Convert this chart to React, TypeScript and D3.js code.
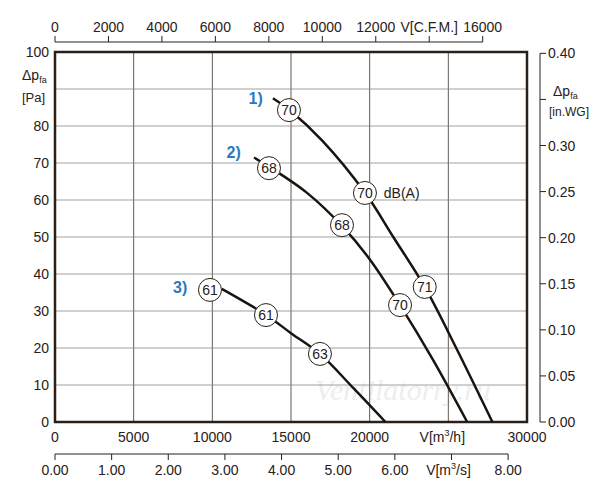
import { scaleLinear, line, curveCatmullRom } from "d3";

const flowTicks = [0, 5000, 10000, 15000, 20000, 25000, 30000];
const paTicks = [0, 10, 20, 30, 40, 50, 60, 70, 80, 90, 100];
const cfmTicks = [0, 2000, 4000, 6000, 8000, 10000, 12000, 14000, 16000];
const m3sTicks = [0, 1, 2, 3, 4, 5, 6, 7, 8];
const inwgTicks = [0, 0.05, 0.1, 0.15, 0.2, 0.25, 0.3, 0.35, 0.4];

// curves: [m3/h, Pa]
const curve1: [number, number][] = [[13850, 87.5], [15000, 84], [17000, 76], [19700, 62], [21500, 50], [23500, 36.5], [25500, 20], [27800, 0]];
const curve2: [number, number][] = [[12650, 71.5], [13600, 69], [16000, 62], [18240, 53], [20000, 44], [21930, 31.6], [24000, 17], [26200, 0]];
const curve3: [number, number][] = [[10600, 36], [13400, 29], [15000, 24], [16840, 18.4], [19000, 9], [21000, 0]];
const curves = [curve1, curve2, curve3];
const curveNames = ["1)", "2)", "3)"];
const nameAt: [number, number][] = [[12300, 87.5], [10900, 73], [7500, 36.5]];

// noise markers: [m3/h, Pa, dB]
const markers: [number, number, number][] = [
  [14870, 84.3, 70], [19700, 61.9, 70], [23500, 36.5, 71],
  [13600, 68.6, 68], [18240, 53.2, 68], [21930, 31.6, 70],
  [9850, 35.7, 61], [13410, 28.9, 61], [16840, 18.4, 63],
];

const L = 55, R = 527, T = 52, B = 422;
const x = scaleLinear().domain([0, 30000]).range([L, R]);
const y = scaleLinear().domain([0, 100]).range([B, T]);
const xCfm = scaleLinear().domain([0, 16000]).range([x(0), x(16000 * 1.699)]);
const xM3s = scaleLinear().domain([0, 8]).range([x(0), x(8 * 3600)]);
const yIn = scaleLinear().domain([0, 0.4]).range([B, y(0.4 * 249.09)]);

const font = "Liberation Sans, Arial, sans-serif";
const ink = "#2a2018";

export default function App() {
  const path = line<[number, number]>().x((d) => x(d[0])).y((d) => y(d[1])).curve(curveCatmullRom);
  return (
    <svg width={600} height={500} style={{ position: "absolute", left: 0, top: 0 }} fontFamily={font} fontSize={14} fill={ink}>
      <rect width={600} height={500} fill="white" />
      <text x={315} y={400} fontSize={30} fontStyle="italic" fontFamily="Liberation Serif, serif" fill="#eeeeee">Ventilatorry.ru</text>
      {flowTicks.slice(1, -1).map((t) => (
        <line key={"vx" + t} x1={x(t)} x2={x(t)} y1={T} y2={B} stroke="#3a3028" strokeWidth={0.8} />
      ))}
      {paTicks.slice(1, -1).map((t) => (
        <line key={"hy" + t} x1={L} x2={R} y1={y(t)} y2={y(t)} stroke="#888" strokeWidth={0.8} />
      ))}
      <rect x={L} y={T} width={R - L} height={B - T} fill="none" stroke={ink} strokeWidth={2.5} />
      {paTicks.map((t) => (
        t === 90 ? null : <text key={"yl" + t} x={L - 6} y={y(t) + 5} textAnchor="end">{t}</text>
      ))}
      {flowTicks.map((t) => (
        <text key={"xl" + t} x={x(t)} y={B + 20} textAnchor="middle">{t === 25000 ? "" : t}</text>
      ))}
      <text x={x(25000) - 6} y={B + 20} textAnchor="middle">V[m<tspan fontSize={9} dy={-6}>3</tspan><tspan dy={6}>/h]</tspan></text>
      {/* top CFM axis */}
      <line x1={xCfm(0)} x2={xCfm(16000)} y1={42} y2={42} stroke={ink} />
      {cfmTicks.map((t) => (
        <g key={"c" + t}>
          <line x1={xCfm(t)} x2={xCfm(t)} y1={42} y2={36} stroke={ink} />
          <text x={xCfm(t)} y={32} textAnchor="middle">{t === 14000 ? "V[C.F.M.]" : t}</text>
        </g>
      ))}
      {/* bottom m3/s axis */}
      <line x1={xM3s(0)} x2={xM3s(8)} y1={454} y2={454} stroke={ink} />
      {m3sTicks.map((t) => (
        <g key={"s" + t}>
          <line x1={xM3s(t)} x2={xM3s(t)} y1={454} y2={460} stroke={ink} />
          {t === 7 ? (
            <text x={xM3s(t) - 3} y={475} textAnchor="middle">V[m<tspan fontSize={9} dy={-6}>3</tspan><tspan dy={6}>/s]</tspan></text>
          ) : (
            <text x={xM3s(t)} y={475} textAnchor="middle">{t.toFixed(2)}</text>
          )}
        </g>
      ))}
      {/* right in.WG axis */}
      <line x1={540} x2={540} y1={yIn(0.4)} y2={B} stroke={ink} />
      {inwgTicks.map((t) => (
        <g key={"w" + t}>
          <line x1={540} x2={546} y1={yIn(t)} y2={yIn(t)} stroke={ink} />
          {t === 0.35 ? null : <text x={548} y={yIn(t) + 5}>{t.toFixed(2)}</text>}
        </g>
      ))}
      <text x={22} y={80}>Δp<tspan fontSize={9} dy={3}>fa</tspan></text>
      <text x={22} y={102} fontSize={13}>[Pa]</text>
      <text x={553} y={96}>Δp<tspan fontSize={9} dy={3}>fa</tspan></text>
      <text x={549} y={116} fontSize={12}>[in.WG]</text>
      {curves.map((c, i) => (
        <path key={"p" + i} d={path(c) ?? ""} fill="none" stroke="#1a1410" strokeWidth={2.5} />
      ))}
      {curveNames.map((n, i) => (
        <text key={"n" + i} x={x(nameAt[i][0])} y={y(nameAt[i][1]) + 6} fontSize={16} fontWeight="bold" fill="#2a7abf">{n}</text>
      ))}
      {markers.map((m, i) => (
        <g key={"m" + i}>
          <circle cx={x(m[0])} cy={y(m[1])} r={11.5} fill="white" stroke={ink} strokeWidth={1} />
          <text x={x(m[0])} y={y(m[1]) + 5} textAnchor="middle">{m[2]}</text>
        </g>
      ))}
      <text x={x(20900)} y={y(61.9) + 5}>dB(A)</text>
    </svg>
  );
}
